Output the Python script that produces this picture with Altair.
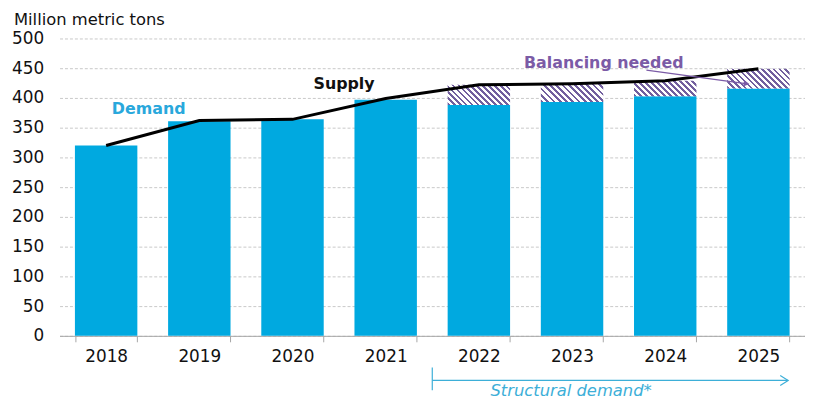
import math
import altair as alt
import pandas as pd

# ---- data ----
years = ["2018", "2019", "2020", "2021", "2022", "2023", "2024", "2025"]
demand = [320, 361, 364, 397, 388, 393, 403, 416]
supply = [320, 362, 364, 399, 422, 424, 429, 449]
balancing_years = ["2022", "2023", "2024", "2025"]
y_ticks = [0, 50, 100, 150, 200, 250, 300, 350, 400, 450, 500]
labels = {"demand": "Demand", "supply": "Supply", "balance": "Balancing needed",
          "structural": "Structural demand*", "unit": "Million metric tons"}

# ---- styling ----
W, H = 752, 300
PAD_IN = 0.33
BLUE = "#00A9E0"
PURPLE = "#7B5BA6"
STRIPE = "#725F9E"
LIGHTBLUE = "#3DAFD8"
FONT = "DejaVu Sans"

df = pd.DataFrame({"year": years, "demand": demand, "supply": supply})

x_scale = alt.Scale(paddingInner=PAD_IN, paddingOuter=PAD_IN / 2)
y_scale = alt.Scale(domain=[0, 500])

x_axis = alt.Axis(title=None, labelAngle=0, labelFontSize=17, labelColor="#111",
                  domainColor="#A6A6A6", tickColor="#A6A6A6", tickSize=6,
                  tickBand="extent", labelPadding=7, grid=False)
y_axis = alt.Axis(title=None, values=y_ticks, domain=False, ticks=False, labelPadding=16,
                  labelFontSize=17, labelColor="#111", labelOverlap=False,
                  labelSeparation=0, gridColor="#C8C8C8", gridDash=[3, 2], gridWidth=1)


def X():
    return alt.X("year:N", scale=x_scale, sort=years, axis=x_axis)


def Y(field):
    return alt.Y(field, scale=y_scale, axis=y_axis, title=None)


bars = alt.Chart(df).mark_bar(color=BLUE).encode(x=X(), y=Y("demand:Q"))

# hatched "balancing" bars: stripes built as hard-edged linear gradients
step = W / len(years)
bw = step * (1 - PAD_IN)
px_per_unit = H / 500.0
hatch_layers = []
for yr in balancing_years:
    i = years.index(yr)
    h = (supply[i] - demand[i]) * px_per_unit
    r = h / bw
    s = (1 + r) / (1 + r * r)
    span = (bw + h) / math.sqrt(2)
    n = max(1, int(round(span / 4.3)))
    stops = []
    for k in range(n):
        a, b, c = k / n, (k + 0.45) / n, (k + 1) / n
        stops += [{"offset": a, "color": STRIPE}, {"offset": b, "color": STRIPE},
                  {"offset": b, "color": "#FFFFFF"}, {"offset": c, "color": "#FFFFFF"}]
    grad = {"gradient": "linear", "x1": 0, "y1": 1, "x2": s, "y2": 1 - s * r, "stops": stops}
    sub = df[df["year"] == yr]
    hatch_layers.append(
        alt.Chart(sub).mark_bar(fill=grad).encode(x=X(), y=Y("demand:Q"), y2="supply:Q"))

line = alt.Chart(df).mark_line(color="black", strokeWidth=3).encode(x=X(), y=Y("supply:Q"))


def txt(key, x, y, color, size, weight="normal", style="normal", align="center"):
    return alt.Chart(pd.DataFrame({"t": [labels[key]]})).mark_text(
        color=color, fontSize=size, fontWeight=weight, fontStyle=style, align=align,
        baseline="middle", font=FONT).encode(x=alt.value(x), y=alt.value(y), text="t:N")


unit = txt("unit", -46, -19, "#111", 16.5, align="left")
t_dem = txt("demand", 90, 71, "#29A8DC", 16, weight="bold")
t_sup = txt("supply", 287, 46, "#111", 16, weight="bold")
t_bal = txt("balance", 549, 25, PURPLE, 16, weight="bold")
t_str = txt("structural", 516, 356, LIGHTBLUE, 16.5, style="italic")

dummy = pd.DataFrame({"k": [0]})
bal_arrow = alt.Chart(dummy).mark_rule(color=PURPLE, strokeWidth=1.2).encode(
    x=alt.value(592), x2=alt.value(692), y=alt.value(32), y2=alt.value(45.5))
bal_head = alt.Chart(dummy).mark_point(shape="triangle-right", filled=True, size=45,
                                       angle=7.7, color=PURPLE, opacity=1).encode(
    x=alt.value(693), y=alt.value(45.6))

str_line = alt.Chart(dummy).mark_rule(color=LIGHTBLUE, strokeWidth=1.2).encode(
    x=alt.value(376), x2=alt.value(735), y=alt.value(345), y2=alt.value(345))
str_tick = alt.Chart(dummy).mark_rule(color=LIGHTBLUE, strokeWidth=1.2).encode(
    x=alt.value(376), x2=alt.value(376), y=alt.value(332), y2=alt.value(355))
str_head = alt.Chart(dummy).mark_point(shape="M -1.6 -1 L 0 0 L -1.6 1", filled=False,
                                       size=100, strokeWidth=1.2, color=LIGHTBLUE,
                                       opacity=1).encode(
    x=alt.value(735), y=alt.value(345))

chart = alt.layer(bars, *hatch_layers, line, unit, t_dem, t_sup, t_bal, t_str,
                  bal_arrow, bal_head, str_line, str_tick, str_head).properties(
    width=W, height=H,
    autosize=alt.AutoSizeParams(type="none"),
    padding={"left": 52, "top": 29, "right": 0, "bottom": 64},
).configure(font=FONT).configure_view(stroke=None).configure_axis(
    labelOverlap=False, labelSeparation=0)

chart.save("out.html", embed_options={"renderer": "svg", "actions": False})
